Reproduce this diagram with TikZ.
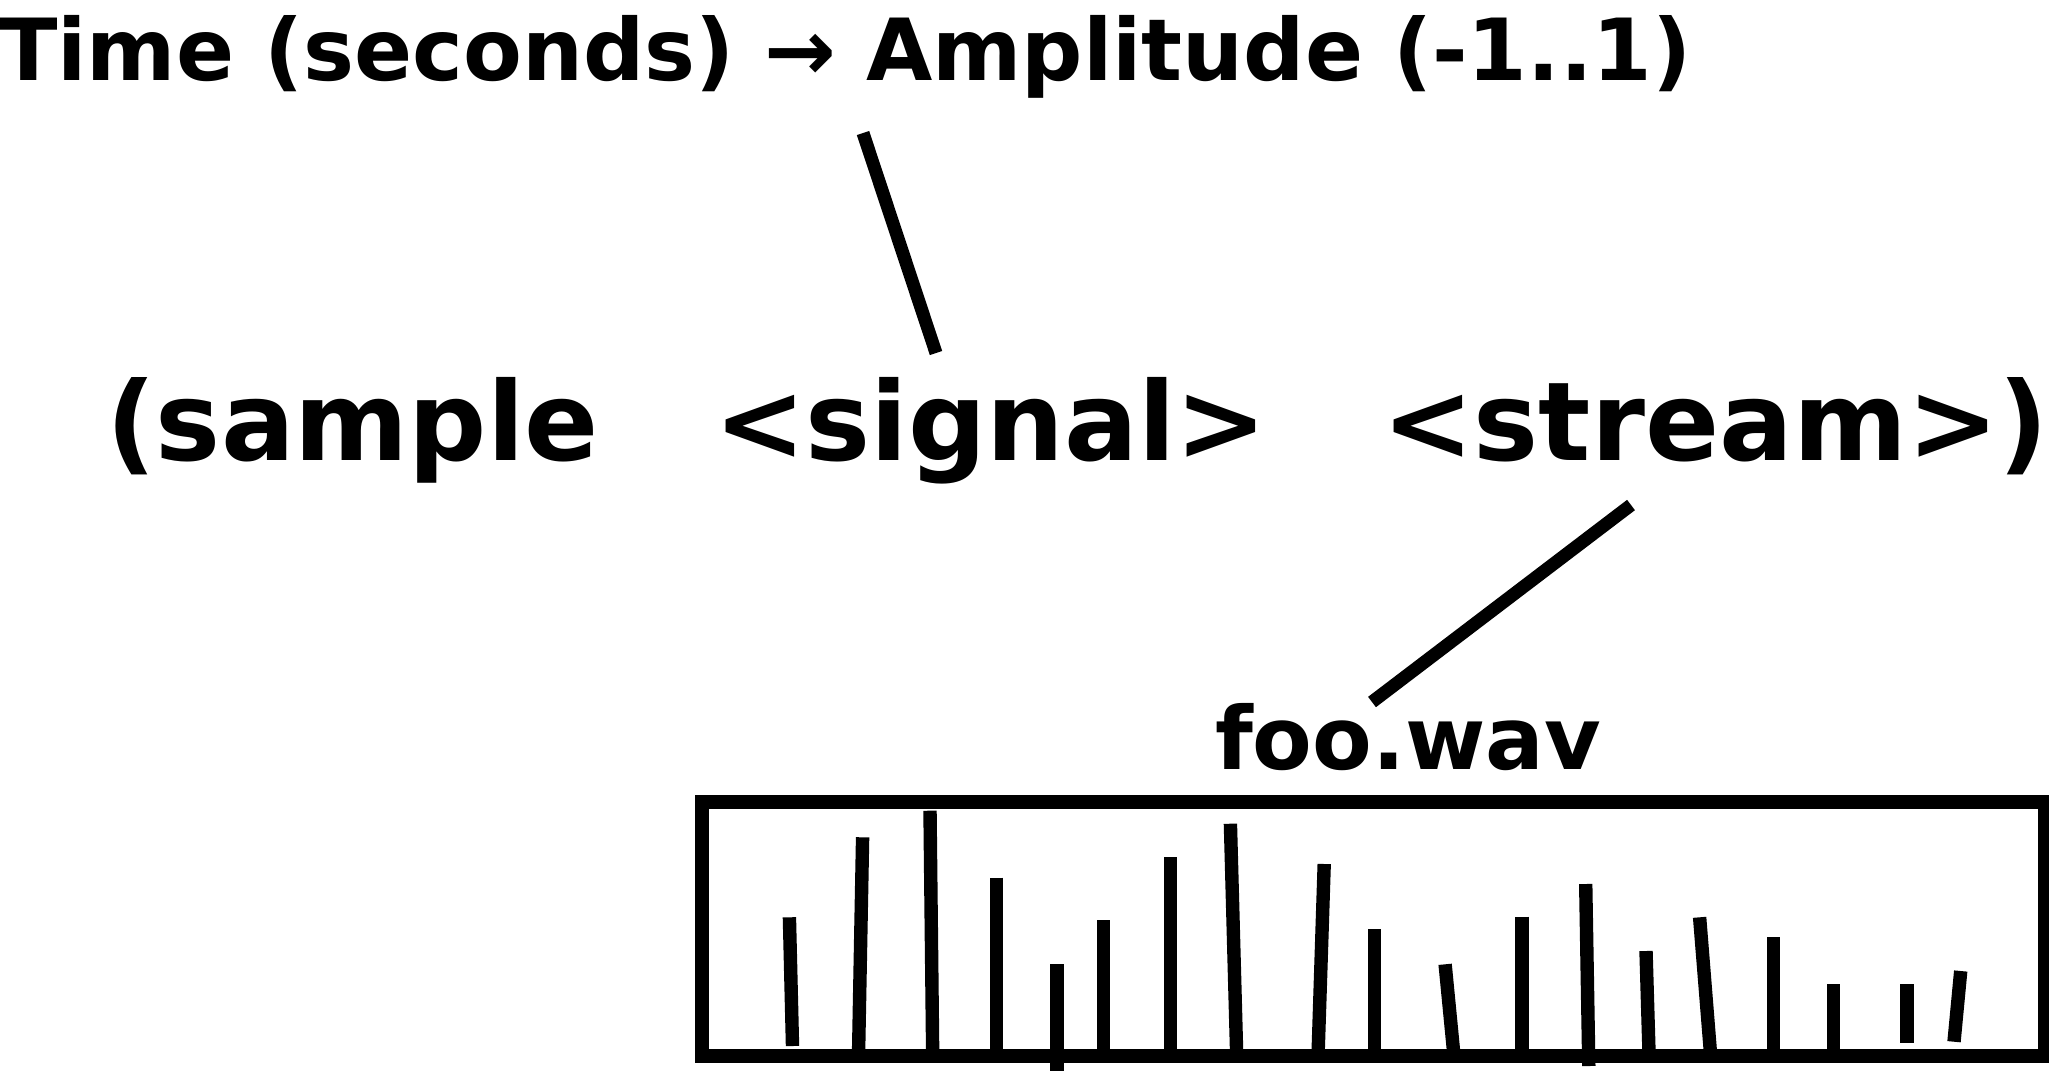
\documentclass[tikz,border=0pt]{standalone}
\usepackage{fontspec}
\setmainfont{DejaVu Sans}
\begin{document}
\begin{tikzpicture}[x=0.5pt,y=-0.5pt,
  txt/.style={anchor=base west,inner sep=0pt,outer sep=0pt,font=\bfseries},
  conn/.style={line width=6.5pt,line cap=butt},
  boxline/.style={line width=6.75pt},
  spike/.style={line width=6.7pt,line cap=butt}]
\useasboundingbox[fill=white] (0,0) rectangle (2049,1078);
% texts
\node[txt,font=\bfseries\fontsize{42.85pt}{50pt}\selectfont] (title) at (-1,80) {Time (seconds) → Amplitude (-1..1)};
\node[txt,font=\bfseries\fontsize{54.7pt}{64pt}\selectfont] (sample) at (106,460) {(sample};
\node[txt,font=\bfseries\fontsize{54.7pt}{64pt}\selectfont] (signal) at (714,460) {<signal>};
\node[txt,font=\bfseries\fontsize{54.7pt}{64pt}\selectfont] (stream) at (1382,460) {<stream>)};
\node[txt,font=\bfseries\fontsize{43.5pt}{52pt}\selectfont] (foo) at (1215,769) {foo.wav};
% connectors
\coordinate (c1a) at (863,133);
\coordinate (c1b) at (936,353);
\coordinate (c2a) at (1631,505);
\coordinate (c2b) at (1372,702);
\draw[conn] (c1a) -- (c1b);
\draw[conn] (c2a) -- (c2b);
% waveform box
\coordinate (bl) at (702,1056);
\coordinate (tr) at (2045,802);
\draw[boxline] (bl) rectangle (tr);
% spikes
\foreach \xt/\yt/\xb/\yb in {
  789.4/917.3/792.5/1046,
  862.6/837.3/858.5/1056,
  930/810.7/932.7/1056,
  996.5/877.7/996.5/1056,
  1056.8/964.3/1056.8/1071,
  1103.2/920/1103.2/1056,
  1170.2/857.3/1170.2/1056,
  1230.4/823.7/1236.7/1056,
  1324.2/864/1318/1056,
  1374.4/929.3/1374.4/1056,
  1445.1/964.3/1454/1056,
  1521.9/916.7/1521.9/1056,
  1585.7/884/1588.8/1066,
  1646/951/1649.1/1056,
  1699.6/917.3/1710.7/1056,
  1773.2/937.3/1773.2/1056,
  1833.5/984.3/1833.5/1056,
  1907.1/984.3/1907.1/1042.7,
  1960.7/971/1954/1041.7}
  \draw[spike] (\xt,\yt) -- (\xb,\yb);
\end{tikzpicture}
\end{document}
